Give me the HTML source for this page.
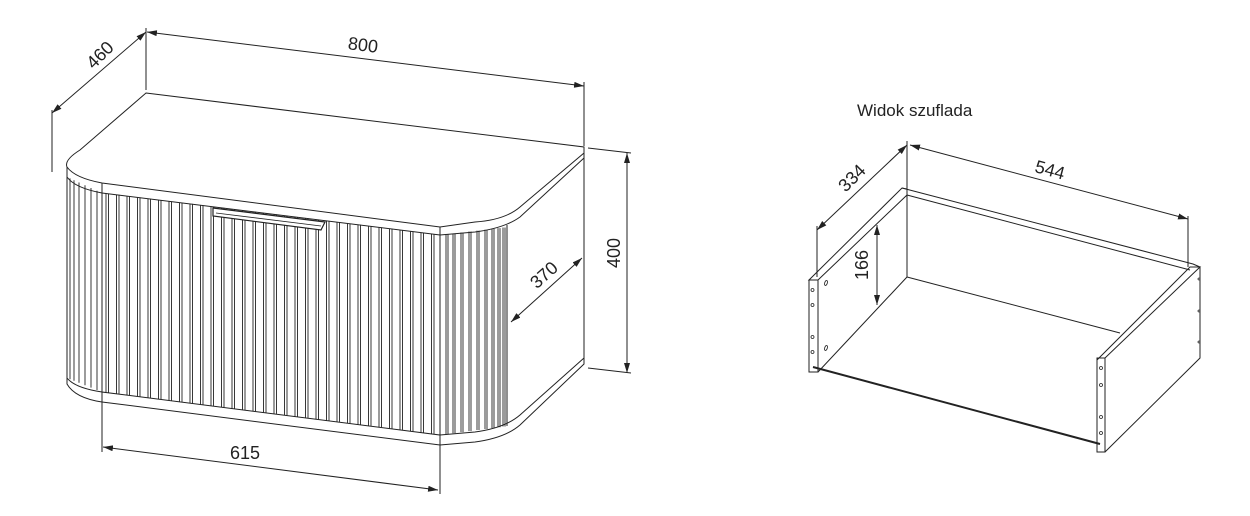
<!DOCTYPE html>
<html><head><meta charset="utf-8"><style>
html,body{margin:0;padding:0;background:#fff;}
svg{display:block;font-family:"Liberation Sans",sans-serif;}
</style></head><body>
<svg id="s" width="1250" height="516" viewBox="0 0 1250 516" xmlns="http://www.w3.org/2000/svg">
<defs>
<marker id="a" viewBox="0 0 10 6" refX="10" refY="3" markerWidth="10" markerHeight="6" orient="auto-start-reverse" markerUnits="userSpaceOnUse"><path d="M0,0 L10,3 L0,6 z" fill="#222"/></marker>
</defs>
<g fill="none" stroke="#222" stroke-width="1">
<line x1="52" y1="113" x2="146" y2="32" marker-start="url(#a)" marker-end="url(#a)"/>
<line x1="52" y1="110" x2="52" y2="172"/>
<line x1="146" y1="28" x2="146" y2="90"/>
<line x1="147" y1="32" x2="584" y2="86" marker-start="url(#a)" marker-end="url(#a)"/>
<line x1="584" y1="82" x2="584" y2="146"/>
<line x1="627" y1="153" x2="627" y2="373" marker-start="url(#a)" marker-end="url(#a)"/>
<line x1="588" y1="148" x2="631" y2="153"/>
<line x1="588" y1="368" x2="631" y2="373"/>
<line x1="511" y1="322" x2="582" y2="258" marker-start="url(#a)" marker-end="url(#a)"/>
<line x1="103" y1="447" x2="438" y2="490" marker-start="url(#a)" marker-end="url(#a)"/>
<line x1="102" y1="393" x2="102" y2="452"/>
<line x1="440" y1="435" x2="440" y2="494"/>
<path d="M146,93 L584,147 L584,153 L520,207 Q505,220 475,222 L440,227 L102,183 Q75,178 67,167 Q64,160 80,150 Z"/>
<path d="M67,167 L67,177 Q75,188 102,193 L440,235 L475,232 Q505,228 520,217 L584,158"/>
<line x1="102" y1="183" x2="102" y2="193"/>
<line x1="440" y1="227" x2="440" y2="235"/>
<path d="M102,193 L102,392 L440,435 L440,235"/>
<path d="M67,177 L67,378"/>
<path d="M507,225 L507,426"/>
<line x1="584" y1="153" x2="584" y2="358"/>
<path d="M67,378 Q75,388 102,392"/>
<path d="M67,378 L67,384 Q75,398 102,402 L440,445 L475,442 Q505,438 520,425 L584,364 L584,358 L520,415 Q505,428 475,432 L440,435"/>
<line x1="102" y1="392" x2="102" y2="402"/>
<line x1="440" y1="435" x2="440" y2="445"/>
<g id="flutes" stroke-width="0.9"></g>
<path d="M213,208 L325,222 L321,230 L213,216 Z" stroke-width="1.2" fill="#fff"/>
<line x1="216" y1="213" x2="321" y2="226" stroke-width="0.8"/>

<line x1="817" y1="230" x2="907" y2="145" marker-start="url(#a)" marker-end="url(#a)"/>
<line x1="817" y1="226" x2="817" y2="277"/>
<line x1="907" y1="141" x2="907" y2="277"/>
<line x1="910" y1="145" x2="1188" y2="219" marker-start="url(#a)" marker-end="url(#a)"/>
<line x1="1188" y1="216" x2="1188" y2="267"/>
<line x1="877" y1="225" x2="877" y2="305" marker-start="url(#a)" marker-end="url(#a)"/>
<path d="M809,280 L902,188 L907,189 L907,195 L818,280 Z"/>
<rect x="809" y="280" width="9" height="92"/>
<line x1="818" y1="372" x2="907" y2="277"/>
<path d="M902,188 L1193,264 L1200,267"/>
<path d="M907,195 L1190,270"/>
<line x1="907" y1="277" x2="1120" y2="333"/>
<path d="M1097,360 L1190,267 L1200,267 L1105,358"/>
<rect x="1097" y="358" width="8" height="94"/>
<path d="M1200,267 L1200,358 L1105,452"/>
<line x1="813" y1="367" x2="1100" y2="444" stroke-width="2"/>
<g stroke-width="0.8">
<circle cx="812.5" cy="290" r="1.5"/><circle cx="812.5" cy="305" r="1.5"/><circle cx="812.5" cy="337" r="1.5"/><circle cx="812.5" cy="352" r="1.5"/>
<ellipse cx="826" cy="283" rx="1.3" ry="2.5" transform="rotate(20 826 283)"/><ellipse cx="826" cy="348" rx="1.3" ry="2.5" transform="rotate(20 826 348)"/>
<circle cx="1101" cy="368" r="1.5"/><circle cx="1101" cy="385" r="1.5"/><circle cx="1101" cy="417" r="1.5"/><circle cx="1101" cy="433" r="1.5"/>
<circle cx="1199" cy="279" r="1"/><circle cx="1199" cy="311" r="1"/><circle cx="1199" cy="342" r="1"/>
</g>
</g>
<g fill="#222" font-size="18">
<text x="363" y="51" text-anchor="middle" transform="rotate(7 363 45)">800</text>
<text x="100" y="61" text-anchor="middle" transform="rotate(-45 100 55)">460</text>
<text x="614" y="259" text-anchor="middle" transform="rotate(-90 614 253)">400</text>
<text x="544" y="281" text-anchor="middle" transform="rotate(-42 544 275)">370</text>
<text x="245" y="459" text-anchor="middle">615</text>
<text x="852" y="184" text-anchor="middle" transform="rotate(-45 852 178)">334</text>
<text x="1050" y="176" text-anchor="middle" transform="rotate(15 1050 170)">544</text>
<text x="862" y="271" text-anchor="middle" transform="rotate(-90 862 265)">166</text>
<text x="857" y="116" font-size="17">Widok szuflada</text>
</g>
</svg>
<script>
var g=document.getElementById('flutes'),ns='http://www.w3.org/2000/svg';
function L(x1,y1,x2,y2){var l=document.createElementNS(ns,'line');l.setAttribute('x1',x1);l.setAttribute('y1',y1);l.setAttribute('x2',x2);l.setAttribute('y2',y2);g.appendChild(l);}
for(var x=106;x<440;x+=10.5){var t=(x-102)/338;var yt=193+42*t,yb=392+43*t;L(x,yt,x,yb);L(x+2.5,yt,x+2.5,yb);}
[70,74,79,85,91,97].forEach(function(x){var t=(x-67)/35;L(x,177+16*t,x,378+14*t);});
[446,453,461,469,477,485,492,498,503].forEach(function(x){var t=(x-440)/67;L(x,235-8*t,x,435-9*t);L(x+2,235-8*t,x+2,435-9*t);});
</script>
</body></html>
